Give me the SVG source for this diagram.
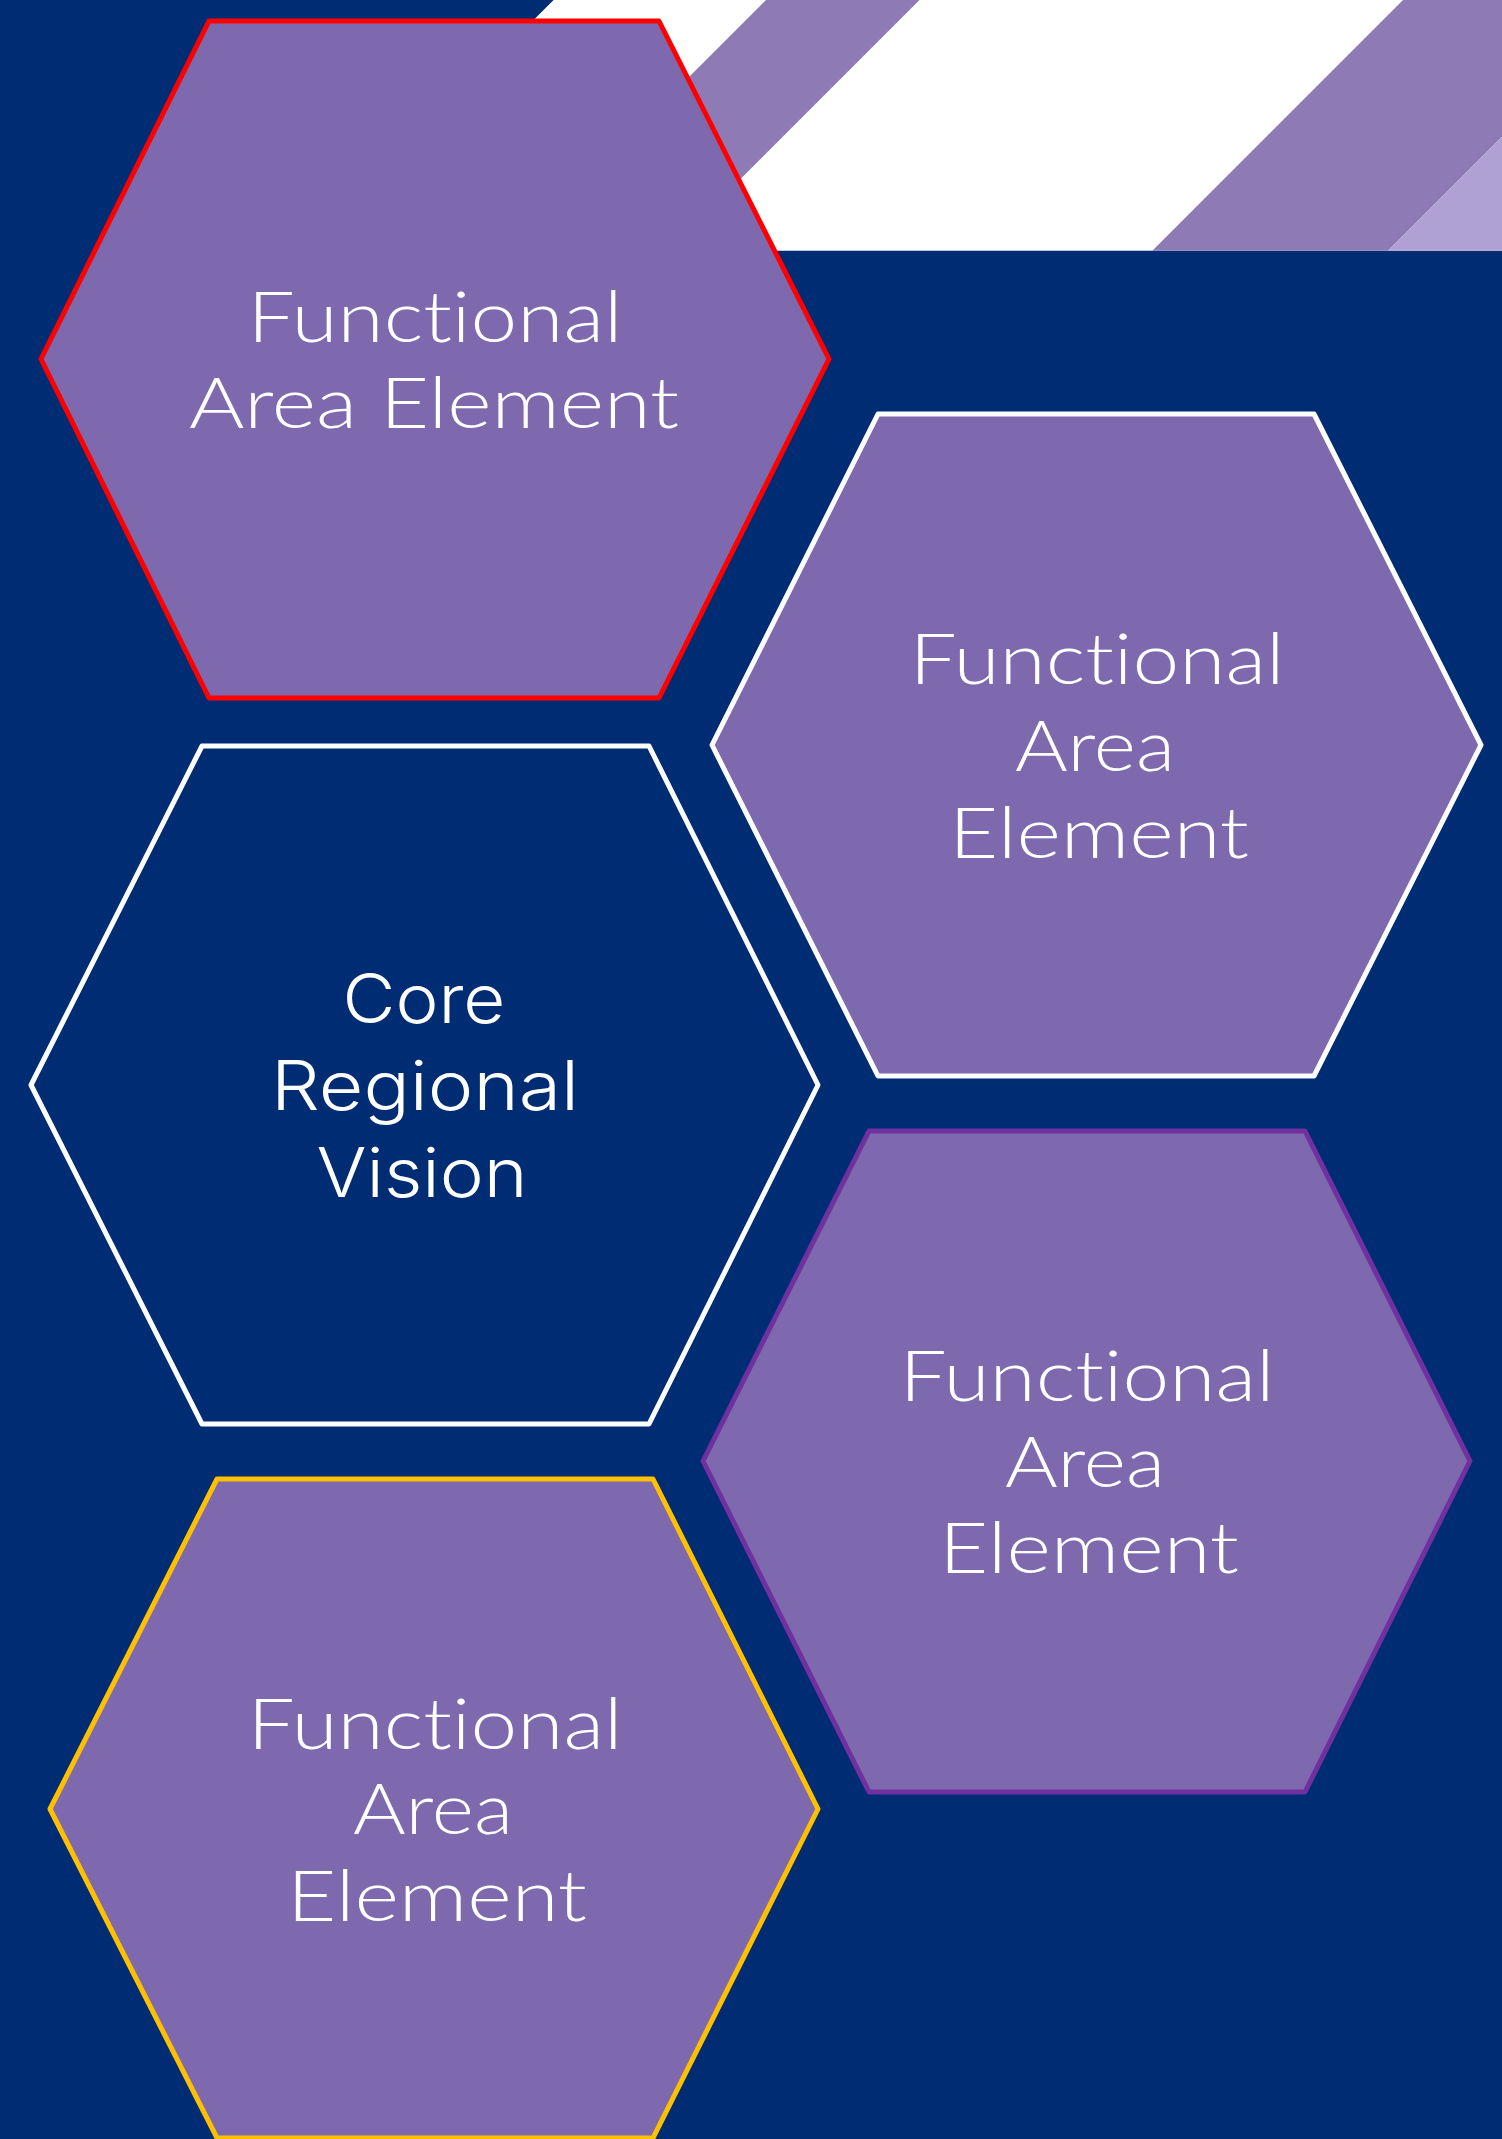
<svg xmlns="http://www.w3.org/2000/svg" width="1502" height="2139" viewBox="0 0 1502 2139">
<style>
.hex{stroke-width:5;stroke-linejoin:round}
.fill{fill:#7E69AE}
.lbl{fill:#FFFFFF;font-family:Lato,"Open Sans","Liberation Sans",sans-serif;font-weight:300;font-size:70px;text-anchor:middle;font-variant-ligatures:none}
.core{fill:#FFFFFF;font-family:Inter,Lato,"Liberation Sans",sans-serif;font-weight:300;font-size:68px;text-anchor:middle;font-variant-ligatures:none}
</style>
<rect x="0" y="0" width="1502" height="2139" fill="#002C73"/>
<g id="banner">
<polygon points="553.6,0 1502,0 1502,250.7 303,250.7" fill="#FFFFFF"/>
<polygon points="766,0 919.5,0 668.8,250.7 515.3,250.7" fill="#8E7BB6"/>
<polygon points="1403,0 1502,0 1502,136.7 1388,250.7 1152.3,250.7" fill="#8E7BB6"/>
<polygon points="1502,136.7 1502,250.7 1388,250.7" fill="#B0A1D4"/>
</g>
<g id="connectors"></g>
<g id="node-fa1">
<polygon class="hex fill" points="209,21 659,21 829,359 659,698 209,698 41,359" stroke="#FF0000"/>
<text class="lbl" x="435" y="342" textLength="375" lengthAdjust="spacingAndGlyphs">Functional</text>
<text class="lbl" x="434" y="428" textLength="490" lengthAdjust="spacingAndGlyphs">Area Element</text>
</g>
<g id="node-fa2">
<polygon class="hex fill" points="878,414 1314,414 1481,745 1314,1076 878,1076 712,745" stroke="#FFFFFF"/>
<text class="lbl" x="1097" y="684" textLength="375" lengthAdjust="spacingAndGlyphs">Functional</text>
<text class="lbl" x="1095" y="771" textLength="160" lengthAdjust="spacingAndGlyphs">Area</text>
<text class="lbl" x="1099" y="858" textLength="300" lengthAdjust="spacingAndGlyphs">Element</text>
</g>
<g id="node-core">
<polygon class="hex" points="202,746 649,746 818,1085 649,1424 202,1424 31,1085" fill="#002C73" stroke="#FFFFFF"/>
<text class="core" x="424" y="1023" textLength="163" lengthAdjust="spacingAndGlyphs">Core</text>
<text class="core" x="425" y="1110" textLength="308" lengthAdjust="spacingAndGlyphs">Regional</text>
<text class="core" x="422" y="1197" textLength="211" lengthAdjust="spacingAndGlyphs">Vision</text>
</g>
<g id="node-fa3">
<polygon class="hex fill" points="869,1131 1305,1131 1470,1461 1305,1792 869,1792 703,1461" stroke="#7030A0"/>
<text class="lbl" x="1087" y="1401" textLength="375" lengthAdjust="spacingAndGlyphs">Functional</text>
<text class="lbl" x="1085" y="1487" textLength="160" lengthAdjust="spacingAndGlyphs">Area</text>
<text class="lbl" x="1089" y="1573" textLength="300" lengthAdjust="spacingAndGlyphs">Element</text>
</g>
<g id="node-fa4">
<polygon class="hex fill" points="217,1479 653,1479 818,1809 653,2138 217,2138 50,1809" stroke="#FFC000"/>
<text class="lbl" x="435" y="1749" textLength="375" lengthAdjust="spacingAndGlyphs">Functional</text>
<text class="lbl" x="433" y="1834" textLength="160" lengthAdjust="spacingAndGlyphs">Area</text>
<text class="lbl" x="437" y="1921" textLength="300" lengthAdjust="spacingAndGlyphs">Element</text>
</g>
</svg>
